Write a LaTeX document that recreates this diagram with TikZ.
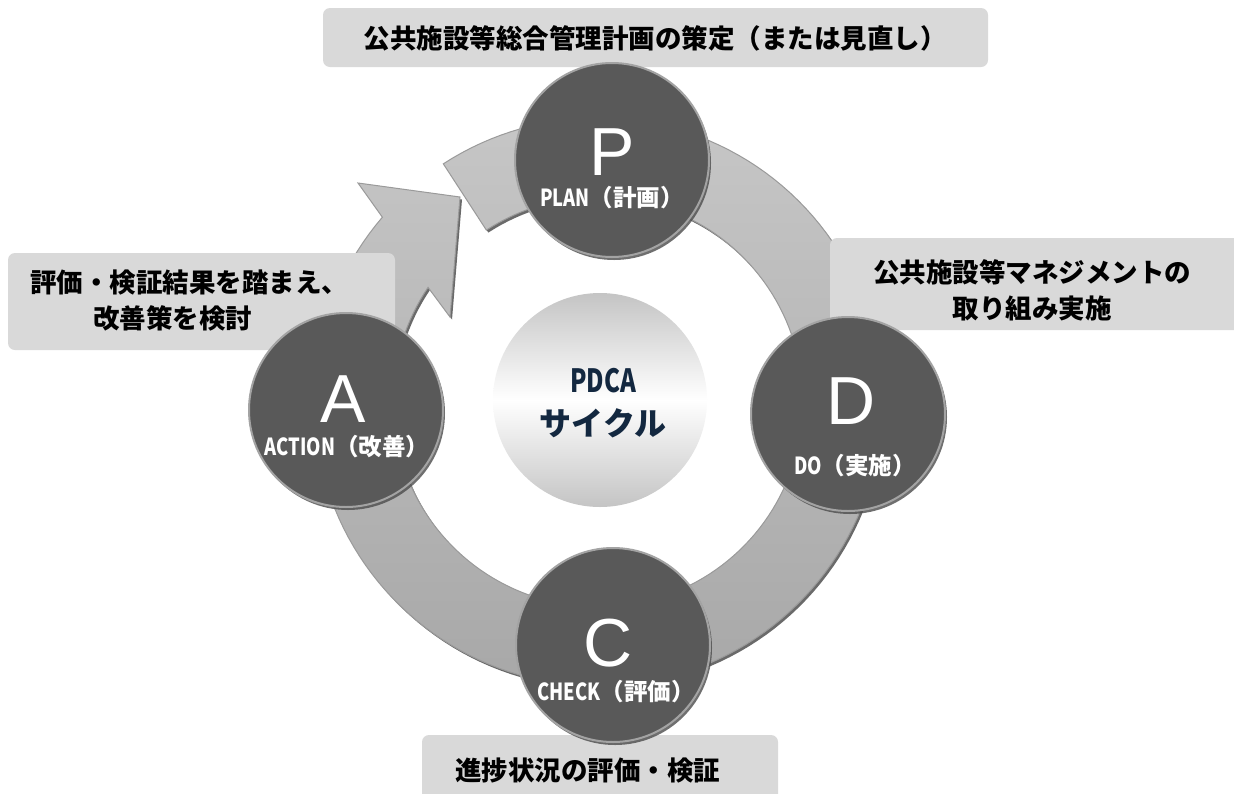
\documentclass[tikz,border=0pt]{standalone}
\usepackage{fontspec}
\usepackage{graphicx}
\setmainfont{Liberation Sans}
\newfontfamily\jpfont{Noto Sans CJK JP}
\newfontfamily\letfont{Liberation Sans}
\usetikzlibrary{shadows}
\definecolor{boxgray}{HTML}{D9D9D9}
\definecolor{circfill}{HTML}{595959}
\definecolor{circedge}{HTML}{A3A3A3}
\definecolor{ringtop}{HTML}{C6C6C6}
\definecolor{ringbot}{HTML}{A8A8A8}
\definecolor{ringedge}{HTML}{9A9A9A}
\definecolor{ringshadow}{HTML}{6A6A6A}
\definecolor{centgray}{HTML}{C4C4C4}
\definecolor{navy}{HTML}{132840}
\newcommand{\latn}[1]{\scalebox{0.78}[1]{#1}}
\tikzset{
  ringpath/.style={insert path={
    plot[domain=123:-220.6,samples=160] ({598+284*cos(\x)},{402-284*sin(\x)})
    -- (358,183) -- (460,197) -- (450,317)
    -- plot[domain=-214:123,samples=160] ({598+205*cos(\x)},{402-205*sin(\x)})
    -- cycle}},
  infobox/.style={fill=boxgray, rounded corners=7pt, inner sep=0pt},
  infotext/.style={font=\jpfont\bfseries\fontsize{26.5}{36}\selectfont, text=black, inner sep=0pt, align=center},
  stage/.style={circle, minimum size=194pt, inner sep=0pt, fill=circfill, draw=circedge, line width=2pt,
    drop shadow={shadow xshift=2pt, shadow yshift=-3pt, fill=black!70, opacity=0.8}},
  letter/.style={font=\letfont\fontsize{68}{68}\selectfont, text=white, inner sep=0pt},
  sublabel/.style={font=\jpfont\bfseries\fontsize{23.5}{25}\selectfont, text=white, inner sep=0pt},
  centtext/.style={font=\jpfont\bfseries\fontsize{32}{36}\selectfont, text=navy, inner sep=0pt}
}
\begin{document}
\begin{tikzpicture}[x=1pt,y=-1pt]
\useasboundingbox (0,0) rectangle (1234,793);
\fill[white] (0,0) rectangle (1234,793);

% ring arrow
\fill[ringshadow, shift={(2,2.5)}, ringpath];
\shade[top color=ringtop, bottom color=ringbot, draw=ringedge, line width=1pt, ringpath];

% text boxes (behind circles)
\node[infobox, minimum width=665pt, minimum height=59pt] (plan) at (655.5,37.5) {};
\node[infobox, minimum width=414pt, minimum height=92pt] (do) at (1037,284) {};
\node[infobox, minimum width=387pt, minimum height=97pt] (act) at (201.5,301.5) {};
\node[infobox, minimum width=356pt, minimum height=70pt] (chk) at (600,770) {};

\node[infotext] (plantext) at (655,38) {公共施設等総合管理計画の策定（または見直し）};
\node[infotext] (dotext) at (1032,290) {公共施設等マネジメントの\\取り組み実施};
\node[infotext, anchor=west] (acttext1) at (30,282) {評価・検証結果を踏まえ、};
\node[infotext, anchor=west] (acttext2) at (93,318) {改善策を検討};
\node[infotext, anchor=west] (chktext) at (455,770) {進捗状況の評価・検証};

% stage circles
\node[stage] (P) at (612,160) {};
\node[stage] (D) at (848,414) {};
\node[stage] (C) at (613,645) {};
\node[stage] (A) at (346,410) {};

\node[letter] (Pl) at (612,152) {P};
\node[letter] (Dl) at (851,401) {D};
\node[letter] (Cl) at (608,643) {C};
\node[letter] (Al) at (343,399) {A};

\node[sublabel] (Pt) at (612,198) {\latn{PLAN}（計画）};
\node[sublabel] (Dt) at (855,466) {\latn{DO}（実施）};
\node[sublabel] (Ct) at (616,692) {\latn{CHECK}（評価）};
\node[sublabel] (At) at (347,447) {\latn{ACTION}（改善）};

% centre circle
\node[circle, minimum size=214pt, inner sep=0pt, top color=centgray, bottom color=centgray, middle color=white] (cent) at (600,400) {};
\node[centtext] (pdca) at (603,381) {\scalebox{0.75}[1]{PDCA}};
\node[centtext] (cycle) at (603,423) {サイクル};
\end{tikzpicture}
\end{document}
